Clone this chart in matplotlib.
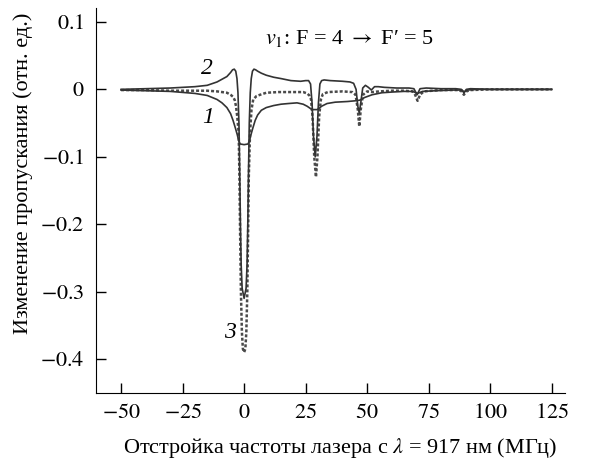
import numpy as np
import matplotlib
matplotlib.use('Agg')
import matplotlib.pyplot as plt

plt.rcParams['font.family'] = ['Liberation Serif', 'DejaVu Serif']
plt.rcParams['mathtext.fontset'] = 'stix'

# curve 1 (lower solid)
x1 = [-50, -40, -30, -20, -15, -11, -9, -7, -5.5, -4.5, -3.5, -2.8, -2.2, -1.6, 0, 1.6, 2.2,
      2.8, 3.5, 4.5, 5.5, 7, 9, 12, 15, 18, 21.5, 24, 25.6, 26.8, 27.6, 29.7, 30.5, 31.5,
      33.7, 37, 42, 45, 47, 49, 52, 56, 60, 65, 68.5, 70.5, 72.5, 78, 85, 88.5, 89.5, 90.5,
      95, 105, 115, 125]
y1 = [-0.001, -0.002, -0.003, -0.006, -0.009, -0.015, -0.02, -0.027, -0.036, -0.046, -0.058,
      -0.067, -0.076, -0.081, -0.082, -0.081, -0.076, -0.067, -0.058, -0.046, -0.038, -0.031,
      -0.027, -0.024, -0.022, -0.021, -0.02, -0.022, -0.025, -0.028, -0.03, -0.03, -0.028,
      -0.025, -0.021, -0.019, -0.018, -0.017, -0.016, -0.012, -0.008, -0.005, -0.004, -0.003,
      -0.003, -0.006, -0.003, -0.002, -0.001, -0.001, -0.004, -0.001, 0.0, 0.0, 0.0, 0.0]

# curve 2 (upper solid)
x2 = [-50, -40, -30, -20, -15, -11, -9, -7, -5.5, -4.7, -4, -3.4, -2.9, -2.5, -2.1, -1.8,
      -1.5, -1.2, -0.8, 0, 0.8, 1.2, 1.5, 1.8, 2.1, 2.5, 2.9, 3.4, 4, 4.7, 5.5, 7, 9, 12,
      15, 19, 23, 25, 26.2, 27, 27.6, 28.2, 28.9, 29.6, 30.2, 30.8, 31.5, 32.5, 35, 40, 43,
      44.5, 45.5, 46.2, 46.8, 47.4, 48.2, 49.3, 50.5, 51.7, 53, 54.5, 57, 62, 67, 69, 70.3,
      71.5, 74, 80, 86, 88.3, 89.3, 90.3, 92, 100, 110, 125]
y2 = [0.0, 0.001, 0.002, 0.004, 0.006, 0.011, 0.015, 0.019, 0.025, 0.029, 0.03, 0.027, 0.016,
      -0.005, -0.05, -0.12, -0.2, -0.26, -0.295, -0.31, -0.295, -0.26, -0.2, -0.12, -0.05,
      -0.005, 0.016, 0.027, 0.03, 0.029, 0.027, 0.024, 0.021, 0.018, 0.016, 0.013, 0.012,
      0.013, 0.013, 0.008, -0.02, -0.07, -0.1, -0.07, -0.02, 0.008, 0.013, 0.014, 0.013,
      0.012, 0.011, 0.009, 0.0, -0.025, -0.035, -0.02, 0.002, 0.006, 0.003, -0.001, 0.004,
      0.004, 0.003, 0.002, 0.002, 0.001, -0.008, 0.001, 0.002, 0.001, 0.001, 0.0, -0.005,
      0.0, 0.001, 0.0, 0.0, 0.0]

# curve 3 (dotted)
x3 = [-50, -40, -30, -20, -15, -11, -7, -5.5, -4.5, -3.8, -3.3, -2.8, -2.2, -1.9, -1.6, -1.3,
      -0.9, -0.5, 0, 0.5, 0.9, 1.3, 1.6, 1.9, 2.4, 3.0, 3.7, 5, 6.5, 9, 14, 20, 24, 25.6,
      26.5, 27.2, 27.8, 28.5, 29.2, 29.8, 30.5, 31.2, 32, 34, 40, 44, 45.3, 46.2, 46.8,
      47.4, 48.3, 50, 52, 55, 60, 65, 68.5, 69.5, 70.5, 71.5, 73, 80, 87, 88.5, 89.3, 90.3,
      92, 100, 110, 125]
y3 = [-0.001, -0.001, -0.002, -0.002, -0.002, -0.003, -0.005, -0.008, -0.011, -0.016, -0.025,
      -0.04, -0.065, -0.13, -0.22, -0.3, -0.36, -0.385, -0.39, -0.385, -0.36, -0.3, -0.22,
      -0.13, -0.065, -0.03, -0.015, -0.01, -0.008, -0.005, -0.004, -0.004, -0.004, -0.006,
      -0.009, -0.015, -0.04, -0.1, -0.13, -0.1, -0.04, -0.015, -0.007, -0.004, -0.003,
      -0.004, -0.008, -0.03, -0.055, -0.03, -0.008, -0.003, -0.004, -0.003, -0.002, -0.002,
      -0.003, -0.008, -0.017, -0.008, -0.003, -0.001, -0.001, -0.003, -0.008, -0.003, -0.001,
      0.0, 0.0, 0.0]

xticks = [-50, -25, 0, 25, 50, 75, 100, 125]
yticks = [0.1, 0, -0.1, -0.2, -0.3, -0.4]
ytick_labels = ['$0.1$', '$0$', '$-0.1$', '$-0.2$', '$-0.3$', '$-0.4$']
xtick_labels = ['$-50$', '$-25$', '$0$', '$25$', '$50$', '$75$', '$100$', '$125$']

fig = plt.figure(figsize=(5.91, 4.65), dpi=100)
ax = fig.add_axes([0.1624, 0.1548, 0.794, 0.828])

ax.plot(x3, y3, color='#4a4a4a', lw=1.8, linestyle=(0, (1.2, 0.8)))
ax.plot(x1, y1, color='#333333', lw=1.2)
ax.plot(x2, y2, color='#333333', lw=1.2)

ax.set_xlim(-60.2, 130.5)
ax.set_ylim(-0.4504, 0.1207)
ax.spines['top'].set_visible(False)
ax.spines['right'].set_visible(False)
ax.set_xticks(xticks)
ax.set_xticklabels(xtick_labels)
ax.set_yticks(yticks)
ax.set_yticklabels(ytick_labels)
ax.tick_params(direction='in', length=7, width=1, labelsize=16, pad=8)

ax.set_xlabel('Отстройка частоты лазера с $\\lambda$ = 917 нм (МГц)', fontsize=16)
ax.set_ylabel('Изменение пропускания (отн. ед.)', fontsize=16)
ax.xaxis.set_label_coords(0.52, -0.112)
ax.yaxis.set_label_coords(-0.135, 0.57)

ax.text(42.7, 0.0755, "$v_1$: F = 4 $\\rightarrow$ F\u2032 = 5", fontsize=16, ha='center', va='center')
ax.text(-15, 0.031, '2', fontsize=17, style='italic', ha='center', va='center')
ax.text(-14.6, -0.042, '1', fontsize=17, style='italic', ha='center', va='center')
ax.text(-5.7, -0.36, '3', fontsize=17, style='italic', ha='center', va='center')

fig.savefig('out.png', dpi=100)
